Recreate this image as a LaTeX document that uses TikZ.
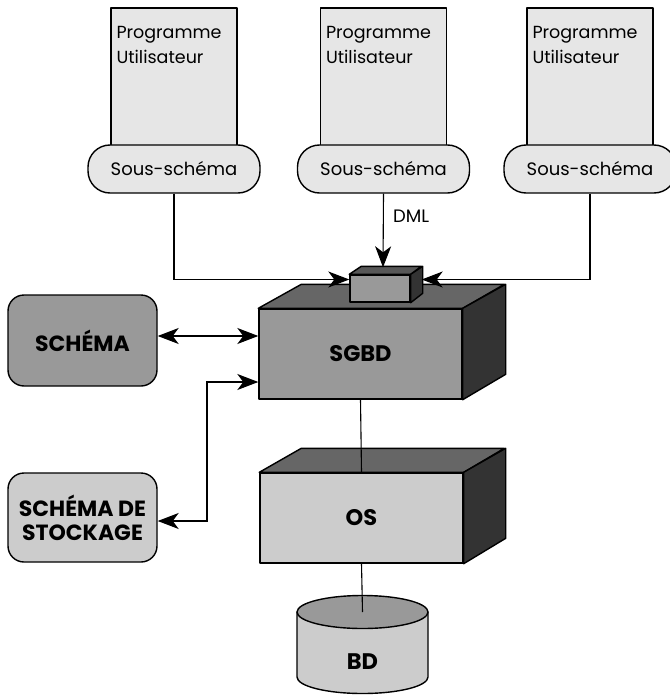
\documentclass[tikz,border=0pt]{standalone}
\usepackage{fontspec}
\setmainfont{Poppins}
\usetikzlibrary{arrows.meta}
\definecolor{paleface}{HTML}{E6E6E6}
\definecolor{lightface}{HTML}{CCCCCC}
\definecolor{midface}{HTML}{999999}
\definecolor{topface}{HTML}{666666}
\definecolor{darkface}{HTML}{333333}
\begin{document}
\begin{tikzpicture}[x=1pt,y=-1pt,
  outline/.style={draw=black,line width=1.4pt,line join=round},
  progbox/.style={outline,fill=paleface,rectangle,inner sep=0pt},
  pill/.style={outline,fill=paleface,rectangle,rounded corners=22pt,inner sep=0pt,
    minimum width=172pt,minimum height=48pt,font=\fontsize{18}{20}\selectfont},
  progtext/.style={anchor=north west,inner sep=0pt,align=left,
    font=\fontsize{17.5}{25}\selectfont},
  schemabox/.style={outline,rectangle,rounded corners=16pt,inner sep=0pt,
    minimum width=149pt,align=center,font=\fontsize{22}{24}\selectfont\bfseries},
  front/.style={outline,rectangle,inner sep=0pt,font=\fontsize{22.5}{24}\selectfont\bfseries},
  link/.style={draw=black,line width=1.1pt},
  tip/.tip={Stealth[length=21pt,width=16pt,inset=6pt]},
]
\useasboundingbox (0,0) rectangle (669,695);

% user programs with their sub-schemas
\foreach \cx/\n in {174/1,383.5/2,590/3}{
  \node[progbox,minimum width=126pt,minimum height=140pt] (prog\n) at (\cx,78) {};
  \node[progtext] (progtext\n) at ([xshift=6pt,yshift=-19pt]prog\n.north west) {Programme\\Utilisateur};
  \node[pill] (sub\n) at (\cx,169) {Sous-schéma};
}

% DBMS block
\node[front,fill=midface,minimum width=203pt,minimum height=90pt] (sgbd) at (360.5,354) {SGBD};
\path[outline,fill=topface] (sgbd.north west) -- ++(43,-24) -- ++(203,0) -- (sgbd.north east) -- cycle;
\path[outline,fill=darkface] (sgbd.north east) -- ++(43,-24) -- ++(0,90) -- (sgbd.south east) -- cycle;

% DML interface on top of the DBMS
\node[outline,rectangle,inner sep=0pt,fill=midface,minimum width=60pt,minimum height=27pt] (dml) at (380,288.5) {};
\path[outline,fill=topface!85!black] (dml.north west) -- ++(12,-8) -- ++(60,0) -- (dml.north east) -- cycle;
\path[outline,fill=darkface] (dml.north east) -- ++(12,-8) -- ++(0,27) -- (dml.south east) -- cycle;
\coordinate (dmltop) at ([xshift=3pt,yshift=7pt]dml.north);
\coordinate (dmlright) at ([xshift=11pt]dml.east |- 0,279.5);

% operating system block
\node[front,fill=lightface,minimum width=203pt,minimum height=90pt] (os) at (361.5,518) {OS};
\path[outline,fill=topface] (os.north west) -- ++(42,-24) -- ++(203,0) -- (os.north east) -- cycle;
\path[outline,fill=darkface] (os.north east) -- ++(42,-24) -- ++(0,90) -- (os.south east) -- cycle;

% database cylinder
\path[outline,fill=lightface] (297,612) -- (297,677) arc[start angle=180,end angle=360,x radius=65.5pt,y radius=16.5pt] -- (428,612) -- cycle;
\path[outline,fill=midface] (362.5,612) ellipse[x radius=65.5pt,y radius=16.5pt];
\coordinate (bdtop) at (362.5,612);
\node[font=\fontsize{22.5}{24}\selectfont\bfseries] (bd) at (362.5,662) {BD};

% schemas
\node[schemabox,fill=midface,minimum height=91pt] (schema) at (82.5,340.5) {SCHÉMA};
\node[schemabox,fill=lightface,minimum height=89pt] (stock) at (82.5,517.5) {SCHÉMA DE\\STOCKAGE};

% connectors
\draw[link,-tip] (sub1.south) -- (sub1.south |- 0,279.5) -- (dml.west |- 0,279.5);
\draw[link,-tip] (sub3.south) -- (sub3.south |- 0,279.5) -- (dmlright);
\draw[link,-tip] (sub2.south) -- (dmltop) node[pos=0.3,right=6pt,font=\fontsize{18}{20}\selectfont] {DML};
\draw[link,tip-tip] (schema.east |- 0,336) -- (sgbd.west |- 0,336);
\draw[link,tip-tip] (stock.east |- 0,521) -- (207,521) -- (207,382) -- (sgbd.west |- 0,382);
\draw[link] (sgbd.south) -- (os.north);
\draw[link] (os.south) -- (bdtop);
\end{tikzpicture}
\end{document}
